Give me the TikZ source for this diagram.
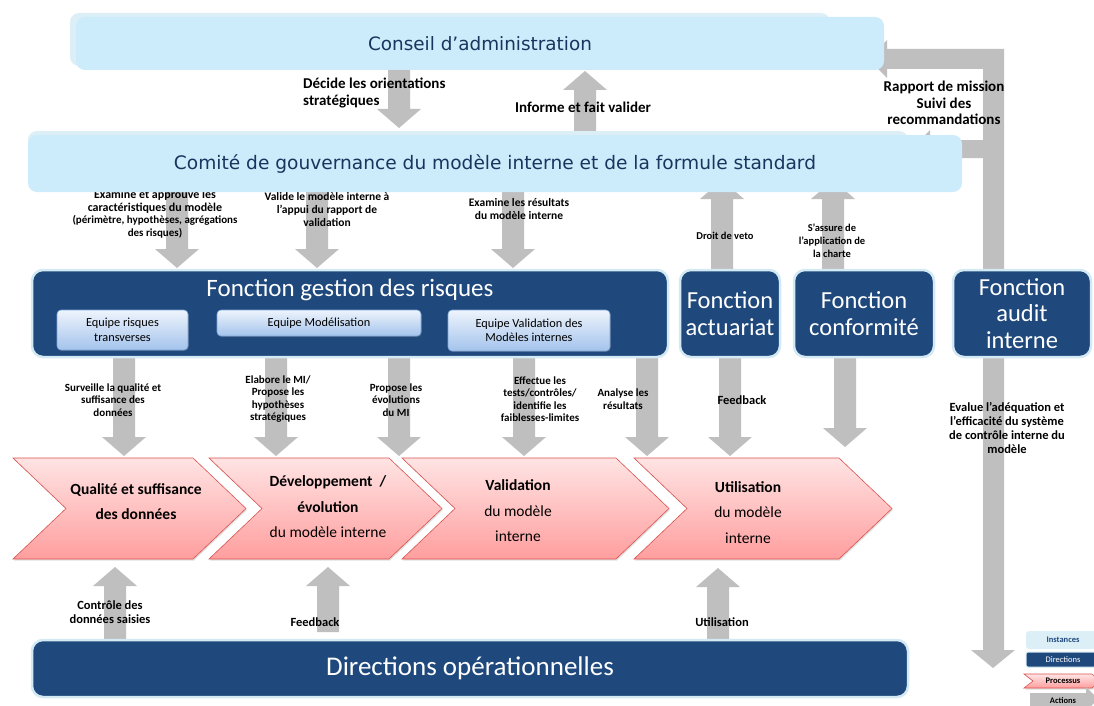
\documentclass[tikz,border=0pt]{standalone}
\usepackage{fontspec}
\setmainfont{Carlito}
\newfontfamily\verd{DejaVu Sans}
\usetikzlibrary{shadings,shadows}
\definecolor{instfill}{HTML}{CCEBFB}
\definecolor{instback}{HTML}{DCEFF7}
\definecolor{navy}{HTML}{1F497D}
\definecolor{navyborder}{HTML}{D3E9F3}
\definecolor{insttext}{HTML}{17365D}
\definecolor{actgray}{HTML}{BFBFBF}
\definecolor{proctop}{HTML}{FFE4E4}
\definecolor{procbot}{HTML}{FF9E9E}
\definecolor{procborder}{HTML}{D9534F}
\definecolor{teamtop}{HTML}{EEF4FC}
\definecolor{teambot}{HTML}{A3C3EC}
\definecolor{teamborder}{HTML}{7EA6D8}
\newcommand\fs[2]{\fontsize{#1}{#2}\selectfont}
% down block arrow: x, y start, y tip
\newcommand\dnarr[3]{\fill[actgray] ({#1-11},#2) -- ({#1+11},#2) -- ({#1+11},{#3-19}) -- ({#1+22},{#3-19}) -- (#1,#3) -- ({#1-22},{#3-19}) -- ({#1-11},{#3-19}) -- cycle;}
% up block arrow: x, y bottom, y tip
\newcommand\uparr[3]{\fill[actgray] ({#1-11},#2) -- ({#1+11},#2) -- ({#1+11},{#3+19}) -- ({#1+22},{#3+19}) -- (#1,#3) -- ({#1-22},{#3+19}) -- ({#1-11},{#3+19}) -- cycle;}
\begin{document}
\begin{tikzpicture}[x=1pt,y=-1pt,
  inst/.style={fill=instfill, rounded corners=9pt, inner sep=0pt, text=insttext, font=\verd\fs{18.4}{22}},
  instbk/.style={fill=instback, rounded corners=9pt, inner sep=0pt},
  fn/.style={fill=navy, draw=navyborder, line width=2.5pt, rounded corners=11pt, inner sep=0pt, text=white, align=center, font=\fs{24.5}{26.5}},
  team/.style={draw=teamborder, line width=0.6pt, top color=teamtop, bottom color=teambot, rounded corners=4pt, inner sep=0pt, align=center, font=\fs{12.3}{14.5}, drop shadow={opacity=0.25, shadow xshift=0.8pt, shadow yshift=-1.2pt}},
  proc/.style={draw=procborder, line width=0.6pt, top color=proctop, bottom color=procbot, drop shadow={opacity=0.25, shadow xshift=1pt, shadow yshift=-1.5pt}},
  ptxt/.style={align=center, inner sep=0pt, font=\fs{15.5}{25.5}},
  lbl/.style={font=\bfseries\fs{11}{12.5}, align=center, inner sep=0pt},
  biglbl/.style={font=\bfseries\fs{15}{16.5}, align=center, inner sep=0pt},
  midlbl/.style={font=\bfseries\fs{12.5}{14}, align=center, inner sep=0pt},
  smlbl/.style={font=\bfseries\fs{10.5}{13}, align=center, inner sep=0pt},
  leg/.style={inner sep=0pt, font=\bfseries\fs{8.5}{10}}
]
\useasboundingbox (0,0) rectangle (1094,706);
\fill[white] (0,0) rectangle (1094,706);

% ---------- gray action arrows ----------
\dnarr{399}{70}{128}
\uparr{585}{135}{71}
\dnarr{177}{190}{268}
\dnarr{317}{190}{268}
\dnarr{513}{190}{268}
\uparr{722}{272}{180}
\uparr{833}{272}{180}
\dnarr{124}{355}{456}
\dnarr{276}{355}{456}
\dnarr{399}{355}{456}
\dnarr{524}{355}{456}
\dnarr{647}{355}{456}
\dnarr{730}{355}{456}
\dnarr{845}{355}{447}
\uparr{115}{645}{567}
\uparr{328}{632}{567}
\uparr{718}{645}{568}
% audit loop
\fill[actgray] (1004,49) -- (1004,650) -- (1015,650) -- (993,668) -- (971,650) -- (983,650)
  -- (983,158) -- (930,158) -- (930,168) -- (911,149) -- (930,130) -- (930,140) -- (983,140)
  -- (983,69) -- (887,69) -- (887,78) -- (868,59) -- (887,40) -- (887,49) -- cycle;

% ---------- labels ----------
\node[biglbl, align=left, anchor=west] (l-dec) at (303,93) {Décide les orientations\\stratégiques};
\node[biglbl] (l-inf) at (583,107) {Informe et fait valider};
\node[biglbl] (l-rap) at (944,103) {Rapport de mission\\Suivi des\\recommandations};
\node[lbl, font=\bfseries\fs{12}{12.5}] (l-exa) at (155,214) {Examine et approuve les\\caractéristiques du modèle\\{\fs{11}{12.5}(périmètre, hypothèses, agrégations}\\{\fs{11}{12.5}des risques)}};
\node[lbl, font=\bfseries\fs{11.5}{13}] (l-val) at (327,210) {Valide le modèle interne à\\l’appui du rapport de\\validation};
\node[lbl, font=\bfseries\fs{11.5}{13}] (l-res) at (519,209.5) {Examine les résultats\\du modèle interne};
\node[smlbl] (l-veto) at (725,236) {Droit de veto};
\node[smlbl] (l-charte) at (832,241) {S’assure de\\l’application de\\la charte};
\node[lbl] (l-surv) at (113,400) {Surveille la qualité et\\suffisance des\\données};
\node[lbl] (l-elab) at (278,399) {Elabore le MI/\\Propose les\\hypothèses\\stratégiques};
\node[lbl] (l-prop) at (396,400) {Propose les\\évolutions\\du MI};
\node[lbl] (l-eff) at (540,399) {Effectue les\\tests/contrôles/\\identifie les\\faiblesses-limites};
\node[lbl] (l-ana) at (623,399) {Analyse les\\résultats};
\node[midlbl] (l-fb1) at (742,400) {Feedback};
\node[midlbl] (l-eval) at (1007,428) {Evalue l’adéquation et\\l’efficacité du système\\de contrôle interne du\\modèle};
\node[midlbl] (l-ctrl) at (110,612) {Contrôle des\\données saisies};
\node[midlbl] (l-fb2) at (315,622) {Feedback};
\node[midlbl] (l-util) at (722,622) {Utilisation};

% ---------- instances ----------
\node[instbk, minimum width=760, minimum height=53] (ca-bk) at (450,39.5) {};
\node[inst, minimum width=808, minimum height=53] (ca) at (480,43.5) {Conseil d’administration};
\node[instbk, minimum width=880, minimum height=55] (cg-bk) at (468,158.5) {};
\node[inst, minimum width=934, minimum height=57, font=\verd\fs{18.6}{22}] (cg) at (495,163.5) {Comité de gouvernance du modèle interne et de la formule standard};

% ---------- directions ----------
\node[fn, minimum width=636, minimum height=87] (fgr) at (350,313.5) {};
\node[text=white, font=\fs{25}{30}, inner sep=0pt] (fgr-t) at (350,290) {Fonction gestion des risques};
\node[fn, minimum width=100, minimum height=87] (fact) at (730,313.5) {Fonction\\actuariat};
\node[fn, minimum width=140, minimum height=87] (fconf) at (864,313.5) {Fonction\\conformité};
\node[fn, minimum width=138, minimum height=87] (faud) at (1022,313.5) {Fonction\\audit\\interne};
\node[fn, minimum width=876, minimum height=57, font=\fs{27}{30}] (dops) at (470,668.5) {Directions opérationnelles};

% teams
\node[team, minimum width=131, minimum height=40] (t1) at (122.5,330) {Equipe risques\\transverses};
\node[team, minimum width=204, minimum height=26] (t2) at (319,323) {Equipe Modélisation};
\node[team, minimum width=162, minimum height=41] (t3) at (529,330.5) {Equipe Validation des\\Modèles internes};

% ---------- process chevrons ----------
\path[proc] (13,458) -- (193,458) -- (246,508.5) -- (193,559) -- (13,559) -- (66,508.5) -- cycle;
\path[proc] (209,458) -- (389,458) -- (442,508.5) -- (389,559) -- (209,559) -- (262,508.5) -- cycle;
\path[proc] (402,458) -- (616,458) -- (669,508.5) -- (616,559) -- (402,559) -- (455,508.5) -- cycle;
\path[proc] (634,458) -- (839,458) -- (892,508.5) -- (839,559) -- (634,559) -- (687,508.5) -- cycle;
\node[ptxt, font=\bfseries\fs{15.5}{25.5}] (p1) at (136,501.5) {Qualité et suffisance\\des données};
\node[ptxt] (p2) at (328,507) {\textbf{Développement \ /}\\\textbf{évolution}\\du modèle interne};
\node[ptxt] (p3) at (518,511) {\textbf{Validation}\\du modèle\\interne};
\node[ptxt] (p4) at (748,512.5) {\textbf{Utilisation}\\du modèle\\interne};

% ---------- legend ----------
\node[fill=instback, rounded corners=3pt, minimum width=70, minimum height=18, inner sep=0pt] (lg1) at (1061,640) {};
\node[leg, text=navy] (lg1t) at (1063,640) {Instances};
\node[fill=navy, draw=navyborder, line width=1pt, rounded corners=2pt, minimum width=70, minimum height=15, inner sep=0pt] (lg2) at (1061,659.5) {};
\node[leg, text=white, font=\fs{8.5}{10}] (lg2t) at (1063,659.5) {Directions};
\path[proc, drop shadow={opacity=0}] (1024,674) -- (1092,674) -- (1100,681) -- (1092,688) -- (1024,688) -- (1033,681) -- cycle;
\node[leg] (lg3t) at (1063,681) {Processus};
\fill[actgray] (1030,693) -- (1086,693) -- (1086,687) -- (1098,699) -- (1086,711) -- (1030,711) -- cycle;
\node[leg] (lg4t) at (1063,701) {Actions};
\end{tikzpicture}
\end{document}
